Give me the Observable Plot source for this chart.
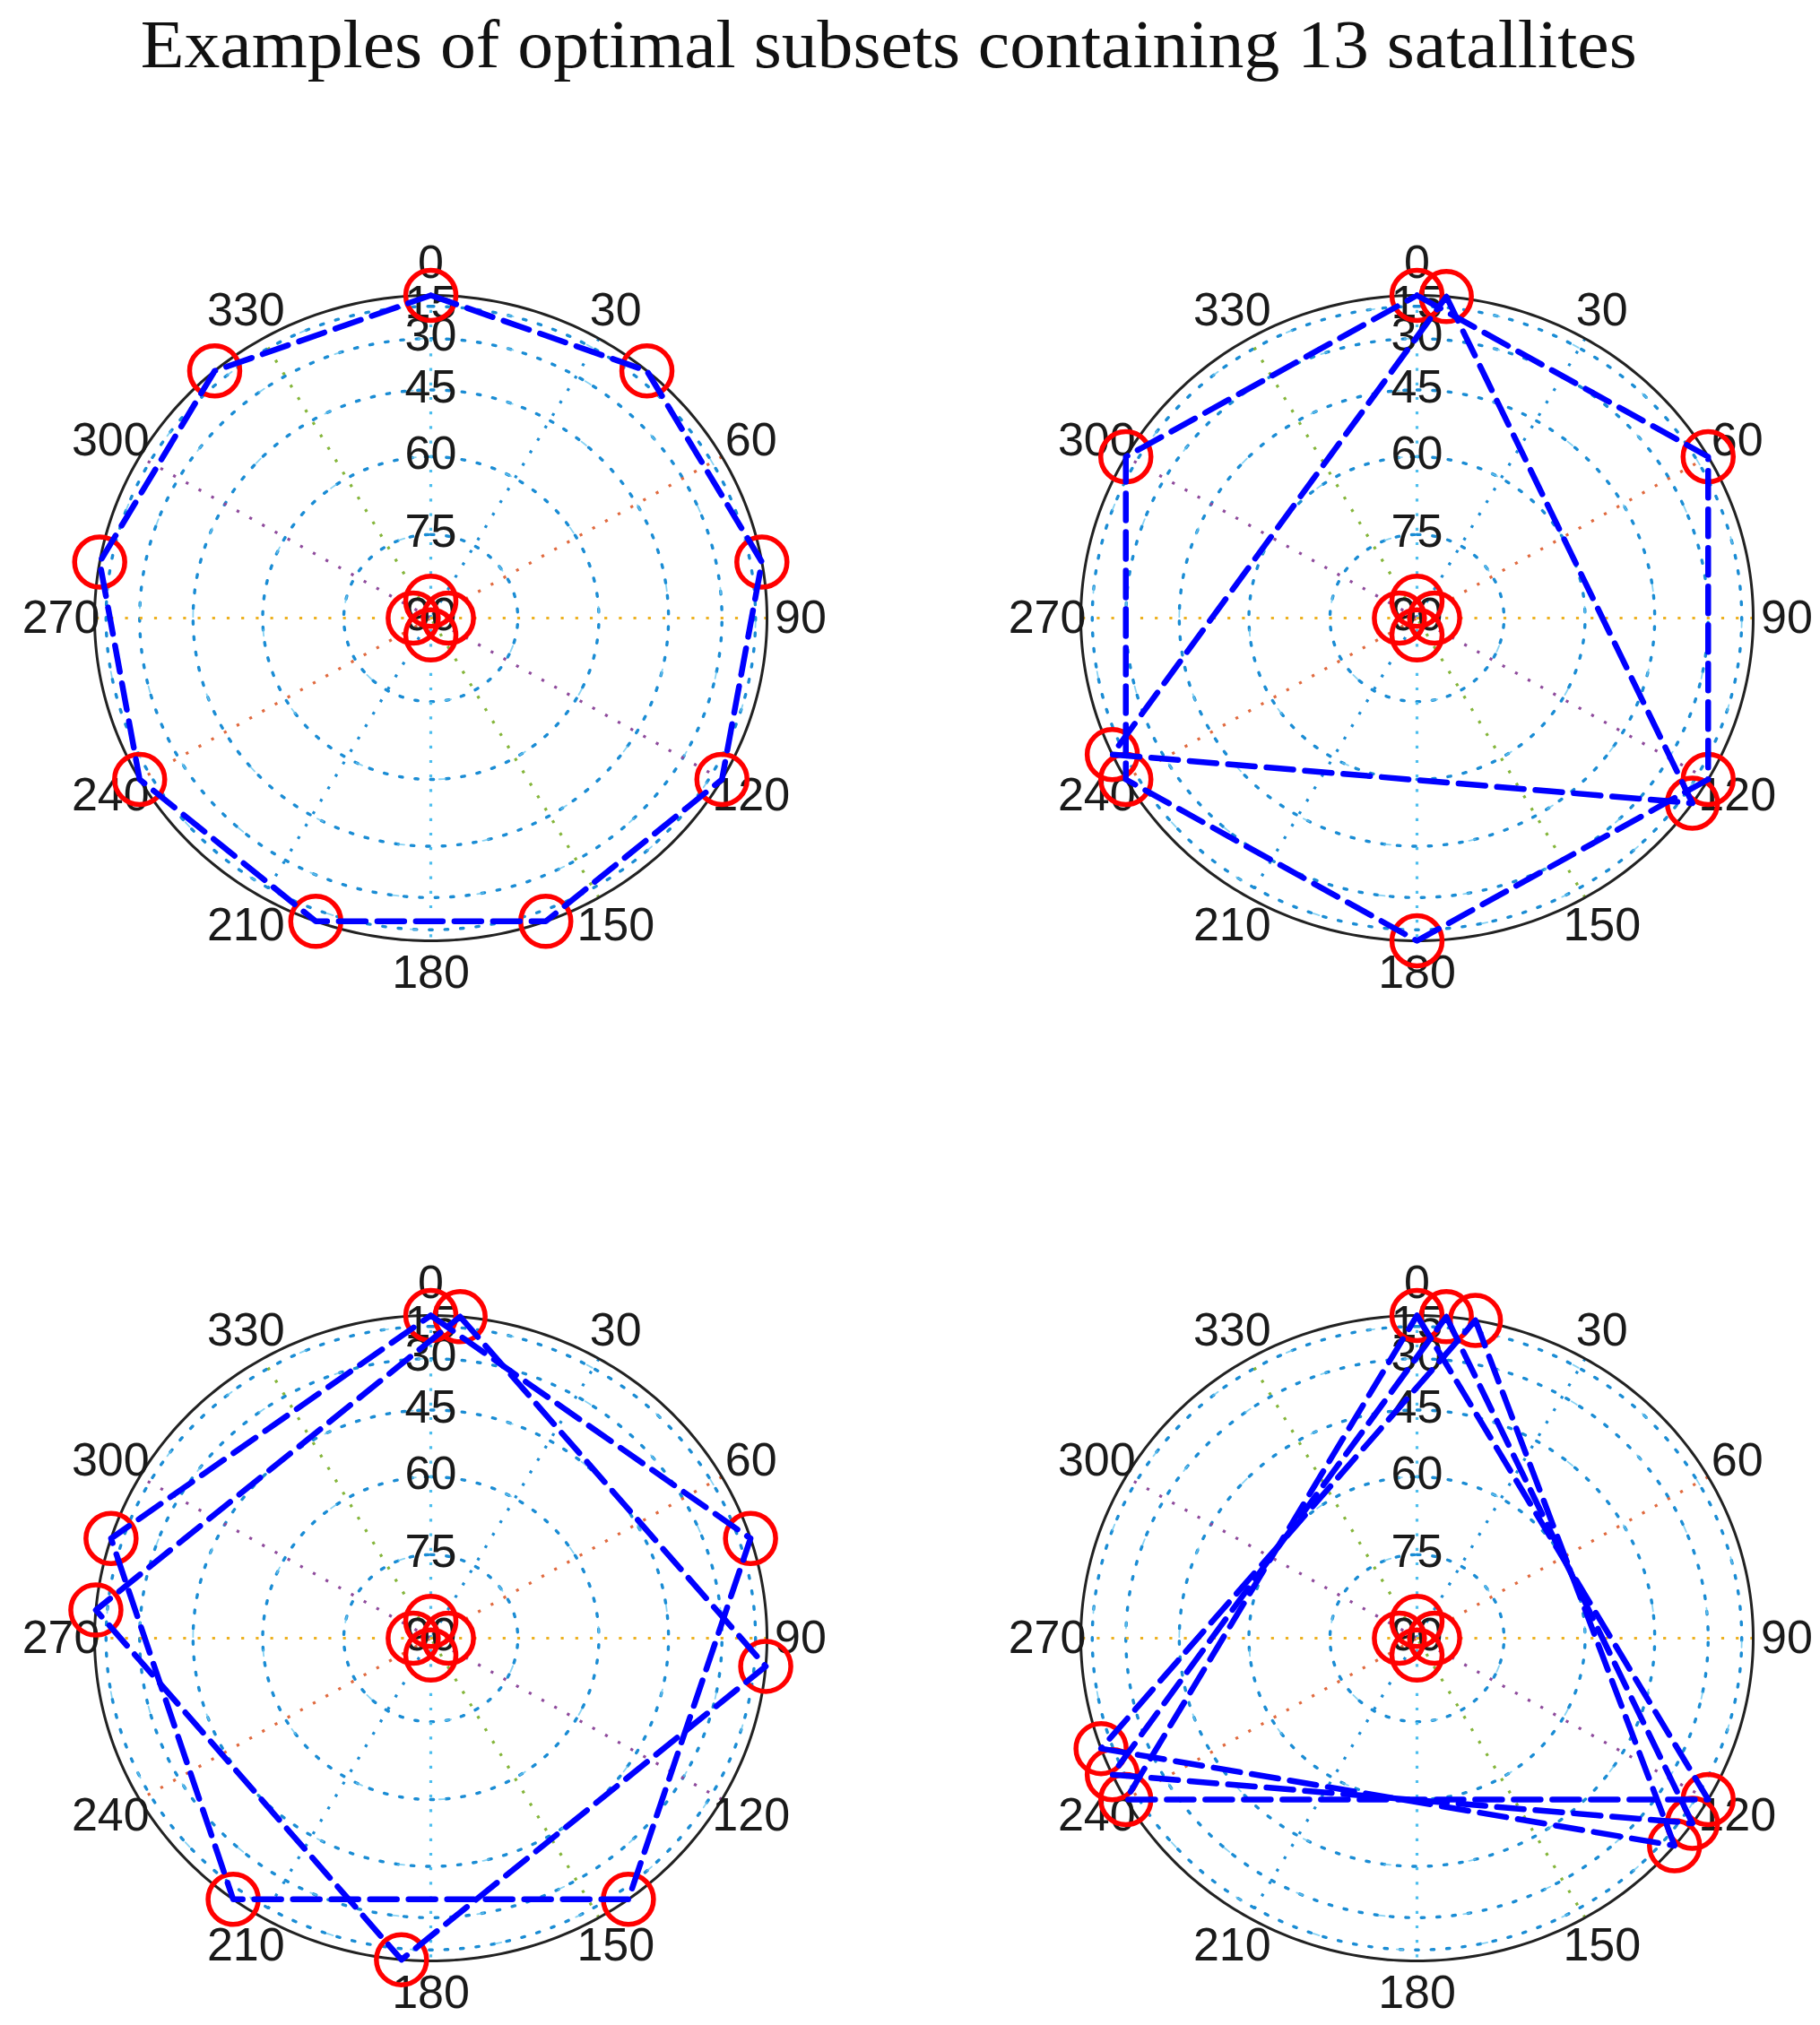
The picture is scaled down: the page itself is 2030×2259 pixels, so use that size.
<!DOCTYPE html>
<html>
<head>
<meta charset="utf-8">
<script src="https://cdn.jsdelivr.net/npm/d3@7"></script>
<script src="https://cdn.jsdelivr.net/npm/@observablehq/plot@0.6"></script>
<style>
  html, body { margin: 0; padding: 0; background: #fff; }
  #page { position: relative; width: 2030px; height: 2259px; overflow: hidden; background: #fff; }
  #title { position: absolute; left: 0; top: 11px; width: 2030px; text-align: center;
           font-family: "Liberation Serif", "Times New Roman", serif; font-size: 77px; line-height: 77px; color: #111; }
  #title span { display: inline-block; transform: scaleX(1.035); transform-origin: 50% 50%; margin-left: -48px; }
  .panel { position: absolute; }
  .panel svg { overflow: visible; }
</style>
</head>
<body>
<div id="page">
  <div id="title"><span>Examples of optimal subsets containing 13 satallites</span></div>
</div>
<script>
// ---------------- data ----------------
const titleText = "Examples of optimal subsets containing 13 satallites";

// polar grid
const azimuthTicks = [0, 30, 60, 90, 120, 150, 180, 210, 240, 270, 300, 330];
const elevationRings = [15, 30, 45, 60, 75];
const elevationLabels = [15, 30, 45, 60, 75, 90];
const spokeAzimuths = [0, 30, 60, 90, 120, 150];
const spokeColors = ["#4DBEEE", "#1a8cd4", "#E06A3F", "#EDB120", "#8E4A9C", "#84B53A"];

// satellites near zenith (same in every panel)
const zenithAzimuths = [0, 90, 180, 270];
const zenithElevation = 87;
// low satellites sit on the horizon circle
const horizonElevation = 0;

// panel 1 (top left): 9 satellites every 40 degrees
const azimuthsA = [0, 40, 80, 120, 160, 200, 240, 280, 320];
const pathsA = [[0, 40, 80, 120, 160, 200, 240, 280, 320, 0]];

// panel 2 (top right): hexagon + triangle
const azimuthsB = [0, 5, 60, 120, 125, 180, 240, 245, 300];
const pathsB = [[0, 60, 120, 180, 240, 300, 0], [5, 125, 245, 5]];

// panel 3 (bottom left): pentagon + square
const azimuthsC = [0, 5, 72, 95, 144, 185, 216, 275, 288];
const pathsC = [[0, 72, 144, 216, 288, 0], [5, 95, 185, 275, 5]];

// panel 4 (bottom right): three triangles
const azimuthsD = [0, 5, 10, 120, 125, 130, 240, 245, 250];
const pathsD = [[0, 120, 240, 0], [5, 125, 245, 5], [10, 130, 250, 10]];

// ---------------- helpers ----------------
const rad = Math.PI / 180;
const polar = (az, el) => {
  const r = Math.cos(el * rad);
  return {x: r * Math.sin(az * rad), y: r * Math.cos(az * rad)};
};
const circlePoints = (r, key) =>
  d3.range(0, 361, 1).map(a => ({key, x: r * Math.sin(a * rad), y: r * Math.cos(a * rad)}));

// layout (page pixels)
const RX = 375, RY = 360;
const layout = [
  {az: azimuthsA, paths: pathsA, left: 0,    top: 160,  w: 1015, h: 1098, cx: 480,  cy: 689},
  {az: azimuthsB, paths: pathsB, left: 1015, top: 160,  w: 1015, h: 1098, cx: 1580, cy: 689},
  {az: azimuthsC, paths: pathsC, left: 0,    top: 1258, w: 1015, h: 1001, cx: 480,  cy: 1827},
  {az: azimuthsD, paths: pathsD, left: 1015, top: 1258, w: 1015, h: 1001, cx: 1580, cy: 1827}
];

const page = document.getElementById("page");

for (const p of layout) {
  const lcx = p.cx - p.left, lcy = p.cy - p.top;

  const rings = elevationRings.flatMap(el => circlePoints(Math.cos(el * rad), el));
  const outer = circlePoints(1, "outer");
  const spokes = spokeAzimuths.map((az, i) => {
    const a = polar(az, 0), b = polar(az + 180, 0);
    return {x1: a.x, y1: a.y, x2: b.x, y2: b.y, color: spokeColors[i]};
  });
  const azLabels = azimuthTicks.map(az => {
    const q = polar(az, 0);
    return {x: 1.1 * q.x, y: 1.1 * q.y, label: String(az)};
  });
  const elLabels = elevationLabels.map(el => ({x: 0, y: Math.cos(el * rad), label: String(el)}));
  const sats = [
    ...p.az.map(az => polar(az, horizonElevation)),
    ...zenithAzimuths.map(az => polar(az, zenithElevation))
  ];
  const pathPts = p.paths.flatMap((seq, i) => seq.map(az => ({path: i, ...polar(az, horizonElevation)})));

  const chart = Plot.plot({
    width: p.w,
    height: p.h,
    margin: 0,
    x: {domain: [-1, 1], range: [lcx - RX, lcx + RX], axis: null},
    y: {domain: [-1, 1], range: [lcy + RY, lcy - RY], axis: null},
    style: {background: "transparent", fontFamily: "'Liberation Sans', Arial, Helvetica, sans-serif", fontSize: "52px", overflow: "visible"},
    marks: [
      // elevation rings: blue dots
      Plot.line(rings, {x: "x", y: "y", z: "key", stroke: "#1a8cd4", strokeWidth: 3.4, strokeDasharray: "3.4,14"}),
      // light-blue sparse dashes on rings
      Plot.line(rings, {x: "x", y: "y", z: "key", stroke: "#6cc8f0", strokeWidth: 1.8, strokeDasharray: "7,88", strokeDashoffset: 9, strokeOpacity: 0.8}),
      // spokes
      Plot.link(spokes, {x1: "x1", y1: "y1", x2: "x2", y2: "y2", stroke: d => d.color, strokeWidth: 3.2, strokeDasharray: "3.2,13"}),
      // horizon circle
      Plot.line(outer, {x: "x", y: "y", stroke: "#222", strokeWidth: 3}),
      // azimuth labels
      Plot.text(azLabels, {x: "x", y: "y", text: "label", fill: "#1a1a1a", fontSize: 52, textAnchor: "middle"}),
      // elevation labels
      Plot.text(elLabels, {x: "x", y: "y", text: "label", fill: "#1a1a1a", fontSize: 52, textAnchor: "middle", dy: -3}),
      // satellites
      Plot.dot(sats, {x: "x", y: "y", r: 28, stroke: "#ff0000", strokeWidth: 5.5, fill: "none"}),
      // dashed subset lines
      Plot.line(pathPts, {x: "x", y: "y", z: "path", stroke: "#0000ff", strokeWidth: 6.5, strokeDasharray: "30,13"})
    ]
  });
  const holder = document.createElement("div");
  holder.className = "panel";
  holder.style.left = p.left + "px";
  holder.style.top = p.top + "px";
  holder.appendChild(chart);
  page.appendChild(holder);
}
</script>
</body>
</html>
